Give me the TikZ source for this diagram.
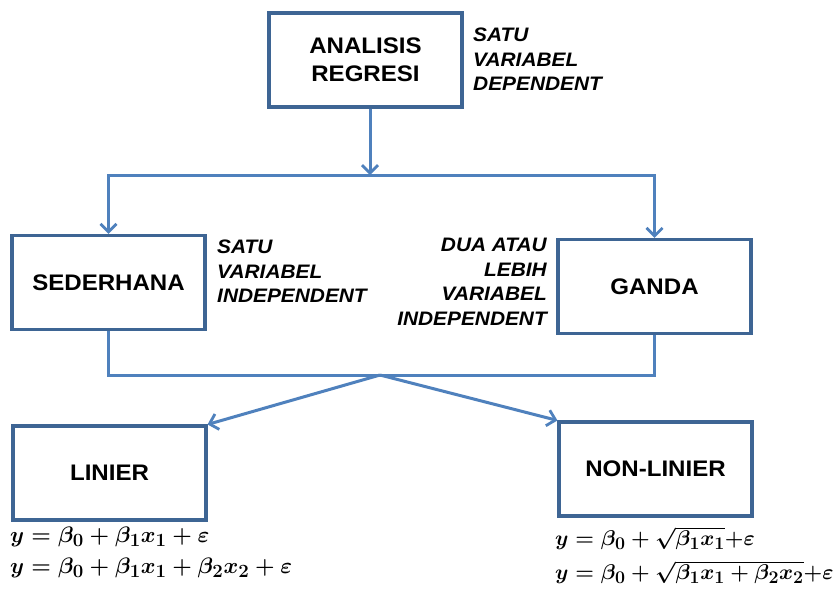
\documentclass[tikz,border=0pt]{standalone}
\usepackage{amsmath}
\usepackage{graphicx}
\usepackage[no-math]{fontspec}
\setmainfont{Liberation Sans}[FakeStretch=1.07]
\usetikzlibrary{arrows.meta}
\DeclareMathSizes{20.74}{20.74}{17.28}{12}
\newcommand{\eqbox}[2][1.08]{\scalebox{#1}{$#2$}}
\definecolor{boxc}{HTML}{3E6594}
\definecolor{arrc}{HTML}{4F81BD}
\begin{document}
\begin{tikzpicture}[x=1pt,y=-1pt,
  box/.style={draw=boxc, line width=3.1pt, fill=white, minimum width=193pt, minimum height=94pt,
    inner sep=0pt, align=center, font=\fontsize{22.5}{28.5}\selectfont\bfseries},
  note/.style={inner sep=0pt, font=\fontsize{19.5}{24.5}\selectfont\bfseries\itshape},
  conn/.style={draw=arrc, line width=3pt},
  arr/.style={conn, -{Straight Barb[length=8pt,width=16pt,line width=2.8pt]}},
  eqn/.style={inner sep=0pt, anchor=west, font=\fontsize{20.74}{24}\selectfont\boldmath}]
\fill[white] (0,0) rectangle (840,595);
\useasboundingbox (0,0) rectangle (840,595);

\node[box] (top) at (365.5,60) {ANALISIS\\REGRESI};
\node[box] (sed) at (108.5,282.5) {SEDERHANA};
\node[box] (gan) at (654.5,286.5) {GANDA};
\node[box] (lin) at (109.5,473) {LINIER};
\node[box] (non) at (655.5,469) {NON-LINIER};

\node[note, anchor=north west, align=left] (n1) at (473,28) {SATU\\VARIABEL\\DEPENDENT};
\node[note, anchor=north west, align=left] (n2) at (217,240) {SATU\\VARIABEL\\INDEPENDENT};
\node[note, anchor=north east, align=right] (n3) at (547,238) {DUA ATAU\\LEBIH\\VARIABEL\\INDEPENDENT};

\coordinate (j1) at (370,175);
\coordinate (j2) at (380,375);

\draw[arr] (top.south -| j1) -- (j1);
\draw[arr] (j1) -| (sed.north);
\draw[arr] (j1) -| (gan.north);
\draw[conn] (sed.south) |- (j2) -| (gan.south);
\draw[arr] (j2) -- (lin.north east);
\draw[arr] (j2) -- (non.north west);

\node[eqn] (e1) at (10,537) {\eqbox{y=\beta_0+\beta_1x_1+\varepsilon}};
\node[eqn] (e2) at (10,568) {\eqbox{y=\beta_0+\beta_1x_1+\beta_2x_2+\varepsilon}};
\node[eqn] (e3) at (555,538) {\eqbox[1.03]{y=\beta_0+\sqrt{\beta_1x_1}{+}\varepsilon}};
\node[eqn] (e4) at (555,572) {\eqbox[1.03]{y=\beta_0+\sqrt{\beta_1x_1+\beta_2x_2}{+}\varepsilon}};
\end{tikzpicture}
\end{document}
